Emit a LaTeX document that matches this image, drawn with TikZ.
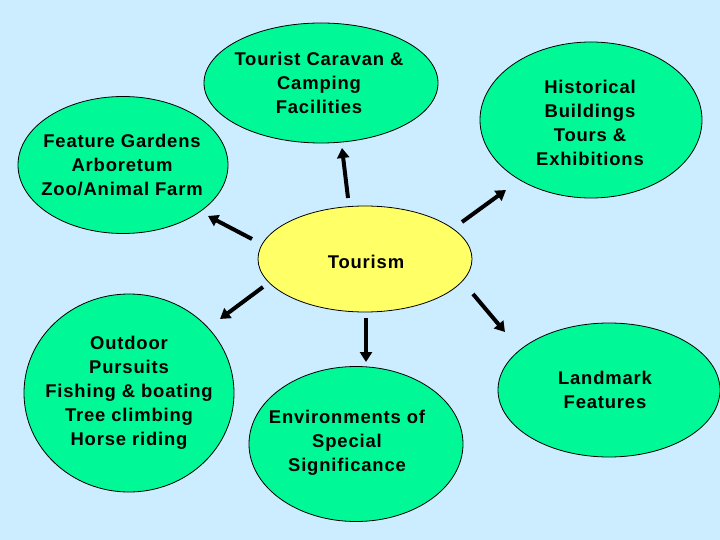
\documentclass[tikz,border=0pt]{standalone}
\usepackage{fontspec}
\setmainfont{Liberation Sans}[LetterSpace=4.5]
\usetikzlibrary{shapes.geometric,arrows.meta}
\definecolor{skyback}{RGB}{204,236,255}
\definecolor{leafgreen}{RGB}{0,248,150}
\definecolor{sunyellow}{RGB}{255,255,102}
\begin{document}
\begin{tikzpicture}[x=1bp,y=-1bp,
  words/.style={align=center,font=\fontsize{18.5}{24}\selectfont\bfseries},
  blob/.style={ellipse,draw=black,line width=0.8bp,fill=leafgreen,inner sep=0pt},
  pointer/.style={line width=4bp,-{Triangle[width=12bp,length=10bp]}}]
  \useasboundingbox[fill=skyback] (0,0) rectangle (720,540);
  \node[blob,minimum width=234bp,minimum height=120bp] (caravan) at (321,83) {};
  \node[words] (caravantext) at (319,83) {Tourist Caravan \&\\Camping\\Facilities};
  \node[blob,minimum width=210bp,minimum height=137bp] (gardens) at (123,165) {};
  \node[words] (gardenstext) at (122,165) {Feature Gardens\\Arboretum\\Zoo/Animal Farm};
  \node[blob,minimum width=222bp,minimum height=156bp] (history) at (591,120) {};
  \node[words] (historytext) at (590,123) {Historical\\Buildings\\Tours \&\\Exhibitions};
  \node[blob,fill=sunyellow,minimum width=214bp,minimum height=106bp] (tourism) at (365,259) {};
  \node[words] (tourismtext) at (366,262) {Tourism};
  \node[blob,minimum width=210bp,minimum height=198bp] (outdoor) at (129,393) {};
  \node[words] (outdoortext) at (129,393)
    {Outdoor\\Pursuits\\Fishing \& boating\\Tree climbing\\Horse riding};
  \node[blob,minimum width=214bp,minimum height=155bp] (environ) at (356,444) {};
  \node[words] (environtext) at (347,443) {Environments of\\Special\\Significance};
  \node[blob,minimum width=222bp,minimum height=134bp] (landmark) at (609,390) {};
  \node[words] (landmarktext) at (605,390) {Landmark\\Features};
  \coordinate (a1) at (252,239); \coordinate (b1) at (208,216);
  \coordinate (a2) at (348,198); \coordinate (b2) at (342,148);
  \coordinate (a3) at (462,222); \coordinate (b3) at (506,190);
  \coordinate (a4) at (263,287); \coordinate (b4) at (220,319);
  \coordinate (a5) at (366,318); \coordinate (b5) at (366,362);
  \coordinate (a6) at (473,294); \coordinate (b6) at (505,332);
  \foreach \i in {1,...,6}
    \draw[pointer] (a\i) -- (b\i);
\end{tikzpicture}
\end{document}
